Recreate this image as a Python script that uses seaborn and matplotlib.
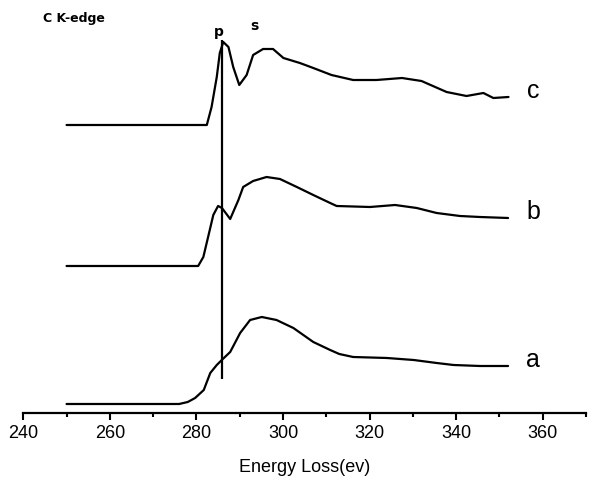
import numpy as np
import pandas as pd
import matplotlib
matplotlib.use("Agg")
import matplotlib.pyplot as plt
from matplotlib.ticker import MultipleLocator
import seaborn as sns

# ----------------------------------------
# DATA (intensity in arbitrary units above each baseline)
# ----------------------------------------

energy_a = [250, 276, 278, 279.7, 281.7, 283.2, 284.7, 286.1, 287.8, 290.1, 292.4, 295.1,
            298.5, 302.4, 307, 310.9, 313, 316.2, 324, 330.2, 335.5, 339.4, 345.5, 352]
inten_a = [0, 0, 0.2, 0.6, 1.4, 3.1, 3.9, 4.5, 5.2, 7.1, 8.4, 8.7,
           8.4, 7.6, 6.2, 5.4, 5.0, 4.7, 4.6, 4.4, 4.1, 3.9, 3.8, 3.8]

energy_b = [250, 280.4, 281.6, 282.7, 283.9, 285, 285.9, 287.8, 289.7, 290.8,
            293.1, 296.2, 299.3, 303.2, 307, 310.9, 312.4, 320.1, 325.9, 330.9,
            335.5, 340.9, 345.5, 352]
inten_b = [0, 0, 0.9, 2.9, 5.1, 6.0, 5.8, 4.7, 6.6, 7.9,
           8.5, 8.9, 8.7, 7.9, 7.1, 6.3, 6.0, 5.9, 6.1, 5.8,
           5.3, 5.0, 4.9, 4.8]

energy_c = [250, 282.4, 283.5, 284.7, 285.4, 286.2, 287.4, 288.5, 289.9, 291.6,
            293.1, 295.4, 297.7, 300.1, 303.9, 307, 311.2, 316.2, 321.6, 327.5,
            332, 337.8, 342.4, 346.3, 348.6, 352.1]
inten_c = [0, 0, 1.8, 4.8, 7.2, 8.3, 7.8, 5.8, 4.0, 5.0,
           7.0, 7.6, 7.6, 6.7, 6.2, 5.7, 5.0, 4.5, 4.5, 4.7,
           4.4, 3.3, 2.9, 3.2, 2.7, 2.8]

curve_names = ["a", "b", "c"]
curve_offsets = [0.9, 14.7, 28.8]

p_edge = 286.0  # position of the pi* marker line

# ----------------------------------------
# BUILD LONG TABLE
# ----------------------------------------

frames = []
for name, e, i, off in zip(curve_names,
                           [energy_a, energy_b, energy_c],
                           [inten_a, inten_b, inten_c],
                           curve_offsets):
    frames.append(pd.DataFrame({"Energy": e,
                                "Intensity": np.array(i) + off,
                                "Sample": name}))
df = pd.concat(frames, ignore_index=True)

# ----------------------------------------
# PLOT
# ----------------------------------------

sns.set_style("white")
plt.rcParams["font.family"] = ["Liberation Sans", "DejaVu Sans"]
plt.rcParams["text.color"] = "black"
plt.rcParams["axes.labelcolor"] = "black"
plt.rcParams["xtick.color"] = "black"

fig = plt.figure(figsize=(5.91, 4.79), dpi=100)
ax = fig.add_axes([0.0394, 0.1378, 0.9521, 0.8622])

sns.lineplot(data=df, x="Energy", y="Intensity", units="Sample", estimator=None,
             color="black", linewidth=1.6, sort=False, ax=ax)

ax.vlines(p_edge, 3.4, 37.3, color="black", linewidth=1.6)

for name, off, i in zip(curve_names, curve_offsets, [inten_a, inten_b, inten_c]):
    ax.text(357.8, i[-1] + off + 0.6, name, fontsize=18, ha="center", va="center")

ax.text(244.5, 39.4, "C K-edge", fontsize=9, fontweight="bold",
        family="DejaVu Sans", ha="left", va="center")
ax.text(285.1, 38.1, "p", fontsize=10, fontweight="bold",
        family="DejaVu Sans", ha="center", va="center")
ax.text(293.5, 38.7, "s", fontsize=10, fontweight="bold",
        family="DejaVu Sans", ha="center", va="center")

ax.set_xlim(240, 370)
ax.set_ylim(0, 41.3)
ax.xaxis.set_major_locator(MultipleLocator(20))
ax.xaxis.set_minor_locator(MultipleLocator(10))
ax.set_yticks([])
ax.set_ylabel("")
ax.set_xlabel("Energy Loss(ev)", fontsize=13, labelpad=12)

for side in ["top", "right", "left"]:
    ax.spines[side].set_visible(False)
ax.spines["bottom"].set_linewidth(1.6)
ax.spines["bottom"].set_color("black")
ax.tick_params(axis="x", which="major", direction="out", length=5, width=1.5,
               labelsize=13, pad=4, bottom=True)
ax.tick_params(axis="x", which="minor", direction="out", length=3, width=1.5, bottom=True)

fig.savefig("out.png", dpi=100)
